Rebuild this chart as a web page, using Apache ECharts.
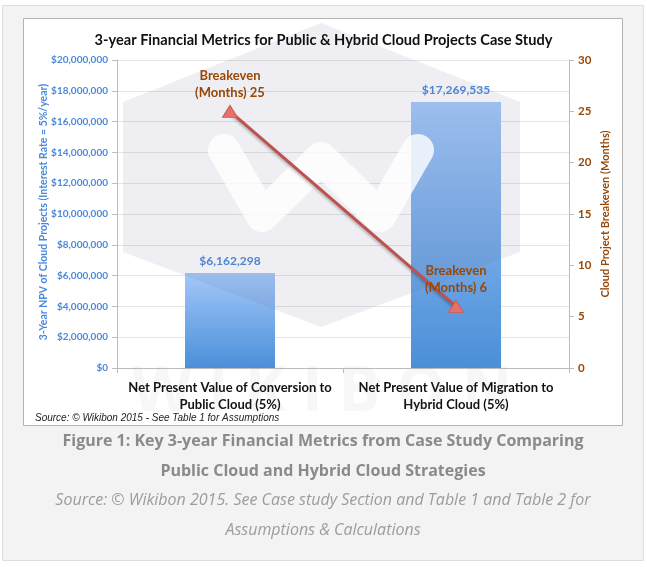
<!DOCTYPE html>
<html>
<head>
<meta charset="utf-8">
<script src="https://cdn.jsdelivr.net/npm/echarts@6/dist/echarts.min.js"></script>
<style>
  html, body { margin: 0; padding: 0; background: #fff; }
  #chart { width: 647px; height: 567px; }
</style>
</head>
<body>
<div id="chart"></div>
<script>
  'use strict'

  var categories = [
    'Net Present Value of Conversion to\nPublic Cloud (5%)',
    'Net Present Value of Migration to\nHybrid Cloud (5%)'
  ];
  var npvValues = [6162298, 17269535];
  var breakevenMonths = [25, 6];
  var npvTicks = { min: 0, max: 20000000, interval: 2000000 };
  var monthTicks = { min: 0, max: 30, interval: 5 };

  var blueText = '#4a88dc';
  var brownText = '#974807';
  var fontFam = 'Lato, "Open Sans", sans-serif';
  var axisGray = '#bcbcbc';

  function money(v) {
    return '$' + Number(v).toLocaleString('en-US');
  }

  var chart = echarts.init(document.getElementById('chart'));

  var option = {
    backgroundColor: '#fff',
    animation: false,
    title: {
      text: '3-year Financial Metrics for Public & Hybrid Cloud Projects Case Study',
      left: 'center',
      top: 28,
      textStyle: { fontFamily: fontFam, fontSize: 14.6, fontWeight: 700, color: '#111' }
    },
    grid: { left: 117, right: 78, top: 60, bottom: 199 },
    xAxis: {
      type: 'category',
      data: categories,
      axisLine: { lineStyle: { color: axisGray } },
      axisTick: { show: true, length: 5, lineStyle: { color: axisGray } },
      axisLabel: {
        interval: 0,
        margin: 11,
        fontFamily: fontFam, fontSize: 13, fontWeight: 700, color: '#111', lineHeight: 17
      }
    },
    yAxis: [
      {
        type: 'value',
        min: npvTicks.min, max: npvTicks.max, interval: npvTicks.interval,
        axisLine: { show: true, lineStyle: { color: axisGray } },
        axisTick: { show: true, length: 5, lineStyle: { color: axisGray } },
        splitLine: { lineStyle: { color: '#e4e4e4' } },
        axisLabel: {
          margin: 9,
          formatter: money,
          fontFamily: fontFam, fontSize: 10, fontWeight: 700, color: blueText
        }
      },
      {
        type: 'value',
        min: monthTicks.min, max: monthTicks.max, interval: monthTicks.interval,
        axisLine: { show: true, lineStyle: { color: axisGray } },
        axisTick: { show: true, length: 5, lineStyle: { color: axisGray } },
        splitLine: { show: false },
        axisLabel: {
          margin: 9,
          fontFamily: fontFam, fontSize: 11.5, fontWeight: 700, color: brownText
        }
      }
    ],
    series: [
      {
        name: 'NPV',
        type: 'bar',
        yAxisIndex: 0,
        data: npvValues,
        barWidth: 90,
        z: 2,
        itemStyle: {
          color: new echarts.graphic.LinearGradient(0, 0, 0, 1, [
            { offset: 0, color: '#a3c8f9' },
            { offset: 1, color: '#4a8fd8' }
          ])
        },
        label: {
          show: true,
          position: 'top',
          distance: 6,
          formatter: function (p) { return money(p.value); },
          fontFamily: fontFam, fontSize: 12, fontWeight: 700, color: blueText
        }
      },
      {
        name: 'Breakeven',
        type: 'line',
        yAxisIndex: 1,
        data: breakevenMonths,
        z: 10,
        symbol: 'triangle',
        symbolSize: [15, 12],
        lineStyle: {
          color: '#c0504d', width: 3,
          shadowColor: 'rgba(0,0,0,0.3)', shadowBlur: 3, shadowOffsetY: 2
        },
        itemStyle: { color: '#e6706b', borderColor: '#d05a56', borderWidth: 1 },
        label: {
          show: true,
          position: 'top',
          distance: 4,
          formatter: 'Breakeven\n(Months) {c}',
          fontFamily: fontFam, fontSize: 13, fontWeight: 700, color: brownText, lineHeight: 17
        }
      }
    ],
    graphic: [
      // outer page frame
      { type: 'rect', z: -20, shape: { x: 2.5, y: 5.5, width: 641, height: 555 },
        style: { fill: '#f3f3f3', stroke: '#dedede', lineWidth: 1 } },
      // chart frame
      { type: 'rect', z: -19, shape: { x: 23.5, y: 18.5, width: 599, height: 407 },
        style: { fill: '#fff', stroke: '#b4b4b4', lineWidth: 1 } },
      // axis titles
      { type: 'text', x: 44, y: 212, rotation: Math.PI / 2,
        style: { text: '3-Year NPV of Cloud Projects (Interest Rate = 5%/year)',
          align: 'center', verticalAlign: 'middle',
          font: 'bold 10.5px Lato, "Open Sans", sans-serif', fill: blueText } },
      { type: 'text', x: 605, y: 214, rotation: Math.PI / 2,
        style: { text: 'Cloud Project Breakeven (Months)',
          align: 'center', verticalAlign: 'middle',
          font: 'bold 11px Lato, "Open Sans", sans-serif', fill: brownText } },
      // watermark
      { type: 'polygon', z: 3, silent: true,
        shape: { points: [[321, 23], [520, 102], [520, 252], [321, 327], [123, 252], [123, 102]] },
        style: { fill: 'rgba(110,110,150,0.11)' } },
      { type: 'polyline', z: 4, silent: true,
        shape: { points: [[224, 150], [262, 216], [321, 158], [380, 216], [418, 150]] },
        style: { stroke: 'rgba(255,255,255,0.8)', lineWidth: 32, lineJoin: 'round', lineCap: 'round', fill: null } },
      { type: 'text', z: 3, silent: true, left: 132, top: 362,
        style: { text: 'W I K I B O N', font: 'bold 62px "Open Sans", sans-serif', fill: 'rgba(120,120,130,0.06)' } },
      // source note inside frame
      { type: 'text', left: 35, top: 413,
        style: { text: 'Source: \u00a9 Wikibon 2015 - See Table 1 for Assumptions',
          font: 'italic 10px "Liberation Sans", Arial, sans-serif', fill: '#222' } },
      // caption
      { type: 'text', x: 323, y: 426,
        style: { text: 'Figure 1: Key 3-year Financial Metrics from Case Study Comparing\nPublic Cloud and Hybrid Cloud Strategies',
          align: 'center', verticalAlign: 'top', lineHeight: 30,
          font: 'bold 16px "Open Sans", sans-serif', fill: '#8a8a8a' } },
      { type: 'text', x: 323, y: 485,
        style: { text: 'Source: \u00a9 Wikibon 2015. See Case study Section and Table 1 and Table 2 for\nAssumptions & Calculations',
          align: 'center', verticalAlign: 'top', lineHeight: 30,
          font: 'italic 16px "Open Sans", sans-serif', fill: '#9c9c9c' } }
    ]
  };

  chart.setOption(option);
</script>
</body>
</html>
